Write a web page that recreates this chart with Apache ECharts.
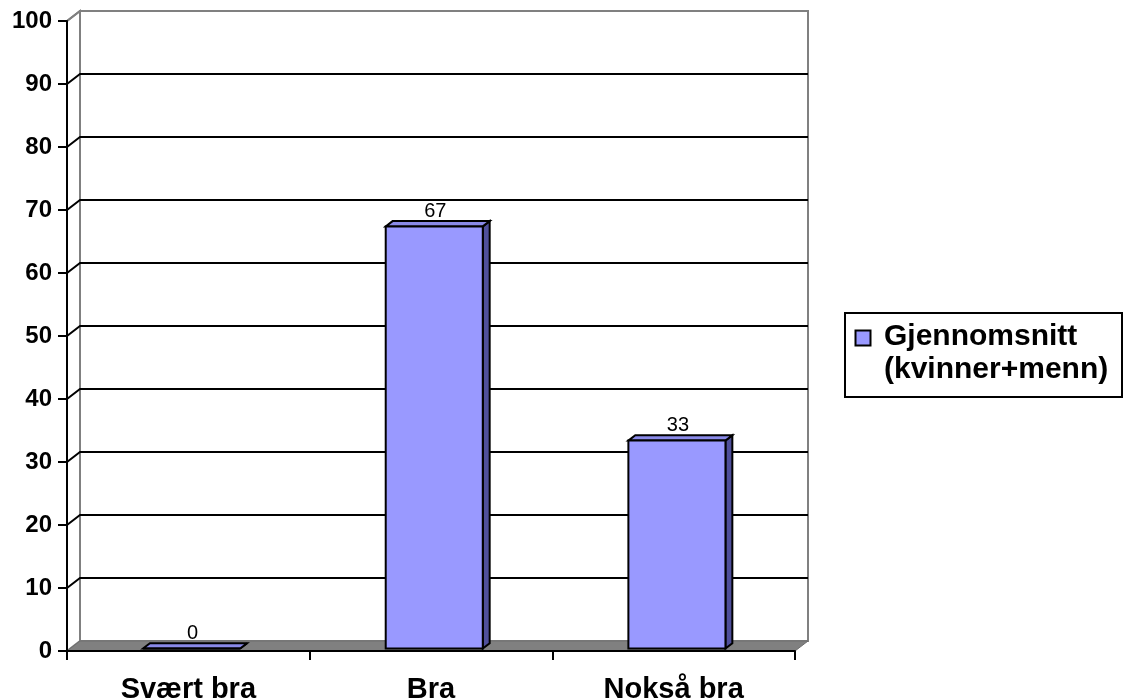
<!DOCTYPE html>
<html>
<head>
<meta charset="utf-8">
<script src="https://cdn.jsdelivr.net/npm/echarts@6/dist/echarts.min.js"></script>
<style>
  html, body { margin: 0; padding: 0; background: #fff; }
  #chart { width: 1132px; height: 699px; }
</style>
</head>
<body>
<div id="chart"></div>
<script>
var categories = ["Svært bra", "Bra", "Nokså bra"];
var values = [0, 67, 33];
var seriesName = "Gjennomsnitt\n(kvinner+menn)";
var yTicks = [0, 10, 20, 30, 40, 50, 60, 70, 80, 90, 100];

// depth of the fake 3d box (px)
var DX = 13;
var DY = -10;
// bar sits between these fractions of the depth
var F1 = 0.25;
var F2 = 0.78;

var myChart = echarts.init(document.getElementById("chart"));
window.addEventListener("resize", myChart.resize);

// back wall, left wall and gridlines
function renderWalls(params, api) {
  var cs = params.coordSys;
  var v = api.value(1);
  var y = api.coord([0, v])[1];
  var children = [];
  if (params.dataIndex === 0) {
    children.push({
      type: "polygon",
      shape: { points: [[cs.x, cs.y], [cs.x + DX, cs.y + DY], [cs.x + DX, cs.y + cs.height + DY], [cs.x, cs.y + cs.height]] },
      style: { fill: "#fff", stroke: "#808080", lineWidth: 2 },
    });
    children.push({
      type: "rect",
      shape: { x: cs.x + DX, y: cs.y + DY, width: cs.width, height: cs.height },
      style: { fill: "#fff", stroke: "#808080", lineWidth: 2 },
    });
    // floor
    var y0 = cs.y + cs.height;
    children.push({
      type: "polygon",
      shape: { points: [[cs.x, y0], [cs.x + DX, y0 + DY], [cs.x + cs.width + DX, y0 + DY], [cs.x + cs.width, y0]] },
      style: { fill: "#808080", stroke: "#6e6e6e", lineWidth: 1 },
    });
  } else {
    var col = v === 100 ? "#808080" : "#000";
    children.push({
      type: "polyline",
      shape: { points: [[cs.x, y], [cs.x + DX, y + DY], [cs.x + cs.width + DX, y + DY]] },
      style: { stroke: col, lineWidth: 2, fill: null },
    });
  }
  return { type: "group", children: children };
}

function renderBar(params, api) {
  var idx = api.value(0);
  var val = api.value(1);
  var top = api.coord([idx, val]);
  var bottom = api.coord([idx, 0]);
  var band = api.size([1, 0])[0];
  var w = band * 0.4;
  var xl = top[0] - w / 2;
  var xr = top[0] + w / 2;
  var y1 = top[1];
  var y0 = bottom[1];
  var fx1 = F1 * DX, fy1 = F1 * DY, fx2 = F2 * DX, fy2 = F2 * DY;
  var line = { stroke: "#000", lineWidth: 2, lineJoin: "miter" };
  return {
    type: "group",
    children: [
      {
        type: "polygon",
        shape: { points: [[xr + fx1, y1 + fy1], [xr + fx2, y1 + fy2], [xr + fx2, y0 + fy2], [xr + fx1, y0 + fy1]] },
        style: Object.assign({ fill: "#4f4f9a" }, line),
      },
      {
        type: "polygon",
        shape: { points: [[xl + fx1, y1 + fy1], [xr + fx1, y1 + fy1], [xr + fx2, y1 + fy2], [xl + fx2, y1 + fy2]] },
        style: Object.assign({ fill: "#8a8ae8" }, line),
      },
      {
        type: "rect",
        shape: { x: xl + fx1, y: y1 + fy1, width: w, height: y0 - y1 },
        style: Object.assign({ fill: "#9999ff" }, line),
      },
      {
        type: "text",
        style: {
          text: String(val),
          x: top[0] + fx1 + 1,
          y: y1 + fy1 - 15,
          align: "center",
          verticalAlign: "middle",
          fontFamily: "Arial, Liberation Sans",
          fontSize: 20,
          fill: "#000",
        },
      },
    ],
  };
}

var option = {
  backgroundColor: "#fff",
  animation: false,
  grid: {
    left: 67,
    top: 21,
    right: 337,
    bottom: 48,
    containLabel: false,
    outerBoundsMode: "none",
  },
  xAxis: {
    type: "category",
    data: categories,
    boundaryGap: true,
    axisLine: { show: true, lineStyle: { color: "#000", width: 2 } },
    axisTick: { show: true, length: 9, lineStyle: { color: "#000", width: 2 } },
    axisLabel: {
      margin: 24,
      fontFamily: "Arial, Liberation Sans",
      fontWeight: "bold",
      fontSize: 29,
      color: "#000",
    },
    splitLine: { show: false },
    z: 10,
  },
  yAxis: {
    type: "value",
    min: 0,
    max: 100,
    interval: 10,
    axisLine: { show: true, lineStyle: { color: "#000", width: 2 } },
    axisTick: { show: true, length: 9, lineStyle: { color: "#000", width: 2 } },
    axisLabel: {
      margin: 15,
      fontFamily: "Arial, Liberation Sans",
      fontWeight: "bold",
      fontSize: 24,
      color: "#000",
    },
    splitLine: { show: false },
    z: 10,
  },
  series: [
    {
      type: "custom",
      renderItem: renderWalls,
      data: yTicks.map(function (v) { return [0, v]; }),
      silent: true,
      z: 1,
    },
    {
      name: seriesName,
      type: "custom",
      renderItem: renderBar,
      data: values.map(function (v, i) { return [i, v]; }),
      z: 5,
    },
  ],
  // legend box
  graphic: [
    {
      type: "rect",
      shape: { x: 845, y: 313, width: 277, height: 84 },
      style: { fill: "#fff", stroke: "#000", lineWidth: 2 },
    },
    {
      type: "rect",
      shape: { x: 855.5, y: 330.5, width: 15, height: 15 },
      style: { fill: "#9999ff", stroke: "#000", lineWidth: 2 },
    },
    {
      type: "text",
      style: {
        text: seriesName,
        x: 884,
        y: 320,
        fontFamily: "Arial, Liberation Sans",
        fontWeight: "bold",
        fontSize: 30,
        lineHeight: 33,
        fill: "#000",
        verticalAlign: "top",
      },
    },
  ],
};

myChart.setOption(option);
</script>
</body>
</html>
